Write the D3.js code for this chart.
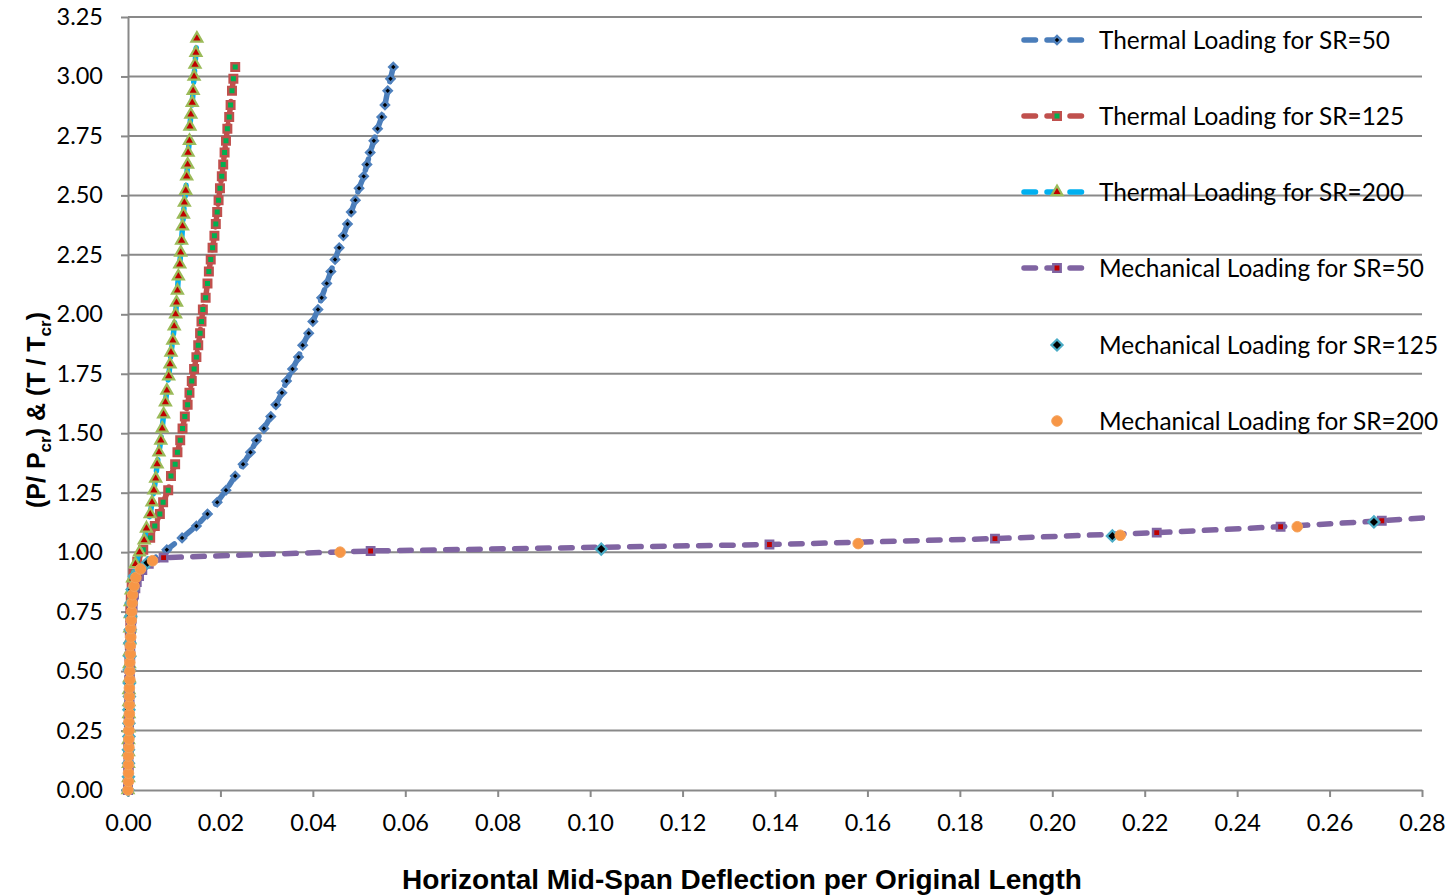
<!DOCTYPE html>
<html>
<head>
<meta charset="utf-8">
<script src="https://cdn.jsdelivr.net/npm/d3@7"></script>
<style>
body { margin: 0; background: #ffffff; }
</style>
</head>
<body>
<div id="content"></div>
<script>
// axis ticks
var xTicks = [0, 0.02, 0.04, 0.06, 0.08, 0.10, 0.12, 0.14, 0.16, 0.18, 0.20, 0.22, 0.24, 0.26, 0.28];
var yTicks = [0, 0.25, 0.50, 0.75, 1.00, 1.25, 1.50, 1.75, 2.00, 2.25, 2.50, 2.75, 3.00, 3.25];

var seriesNames = [
	"Thermal Loading for SR=50",
	"Thermal Loading for SR=125",
	"Thermal Loading for SR=200",
	"Mechanical Loading for SR=50",
	"Mechanical Loading for SR=125",
	"Mechanical Loading for SR=200"
];

// thermal loading (T / Tcr), SR=50 and SR=125 share the same steps
var thermalY = [0.00, 0.05, 0.10, 0.15, 0.20, 0.25, 0.30, 0.35, 0.40, 0.46,
	0.51, 0.56, 0.61, 0.66, 0.71, 0.76, 0.81, 0.86, 0.91, 0.96,
	1.01, 1.06, 1.11, 1.16, 1.21, 1.26, 1.32, 1.37, 1.42, 1.47,
	1.52, 1.57, 1.62, 1.67, 1.72, 1.77, 1.82, 1.87, 1.92, 1.97,
	2.02, 2.07, 2.13, 2.18, 2.23, 2.28, 2.33, 2.38, 2.43, 2.48,
	2.53, 2.58, 2.63, 2.68, 2.73, 2.78, 2.83, 2.88, 2.94, 2.99,
	3.04];
var thermal50X = [0, 0.0001, 0.0001, 0.0001, 0.0002, 0.0002, 0.0002, 0.0002, 0.0003, 0.0003,
	0.0003, 0.0004, 0.0004, 0.0005, 0.0006, 0.0007, 0.0009, 0.0013, 0.0022, 0.0045,
	0.0084, 0.0117, 0.0148, 0.0172, 0.0193, 0.0212, 0.0232, 0.0249, 0.0265, 0.0278,
	0.0294, 0.0309, 0.0320, 0.0333, 0.0343, 0.0356, 0.0369, 0.0378, 0.0391, 0.0400,
	0.0411, 0.0419, 0.0430, 0.0439, 0.0448, 0.0457, 0.0466, 0.0475, 0.0483, 0.0492,
	0.0500, 0.0510, 0.0517, 0.0524, 0.0532, 0.0540, 0.0549, 0.0556, 0.0562, 0.0568,
	0.0574];
var thermal125X = [0, 0.0001, 0.0001, 0.0001, 0.0001, 0.0002, 0.0002, 0.0002, 0.0002, 0.0003,
	0.0003, 0.0003, 0.0004, 0.0004, 0.0005, 0.0005, 0.0006, 0.0008, 0.0012, 0.0020,
	0.0033, 0.0048, 0.0058, 0.0069, 0.0076, 0.0087, 0.0093, 0.0102, 0.0107, 0.0113,
	0.0118, 0.0123, 0.0129, 0.0133, 0.0138, 0.0143, 0.0148, 0.0152, 0.0156, 0.0159,
	0.0162, 0.0168, 0.0172, 0.0175, 0.0179, 0.0183, 0.0187, 0.0190, 0.0193, 0.0196,
	0.0199, 0.0203, 0.0206, 0.0209, 0.0212, 0.0215, 0.0219, 0.0222, 0.0225, 0.0228,
	0.0232];
var thermal200Y = [0.00, 0.05, 0.11, 0.16, 0.21, 0.26, 0.32, 0.37, 0.42, 0.47,
	0.53, 0.58, 0.63, 0.68, 0.74, 0.79, 0.84, 0.89, 0.95, 1.00,
	1.05, 1.10, 1.16, 1.21, 1.26, 1.31, 1.37, 1.42, 1.47, 1.52,
	1.58, 1.63, 1.68, 1.74, 1.79, 1.84, 1.89, 1.95, 2.00, 2.05,
	2.10, 2.16, 2.21, 2.26, 2.31, 2.37, 2.42, 2.47, 2.52, 2.58,
	2.63, 2.68, 2.73, 2.79, 2.84, 2.89, 2.94, 3.00, 3.05, 3.10,
	3.16];
var thermal200X = [0, 0.0001, 0.0001, 0.0001, 0.0001, 0.0002, 0.0002, 0.0002, 0.0002, 0.0003,
	0.0003, 0.0003, 0.0004, 0.0004, 0.0005, 0.0005, 0.0007, 0.0010, 0.0016, 0.0025,
	0.0035, 0.0040, 0.0048, 0.0052, 0.0056, 0.0060, 0.0063, 0.0067, 0.0071, 0.0074,
	0.0077, 0.0081, 0.0084, 0.0088, 0.0091, 0.0093, 0.0097, 0.0100, 0.0103, 0.0105,
	0.0107, 0.0109, 0.0112, 0.0114, 0.0116, 0.0118, 0.0120, 0.0122, 0.0125, 0.0127,
	0.0129, 0.0130, 0.0133, 0.0134, 0.0136, 0.0139, 0.0141, 0.0143, 0.0145, 0.0147,
	0.0149];

// mechanical loading (P / Pcr)
var mech50Y = [0, 0.026, 0.051, 0.077, 0.103, 0.128, 0.154, 0.180, 0.206, 0.231,
	0.257, 0.283, 0.308, 0.334, 0.360, 0.385, 0.411, 0.437, 0.463, 0.488,
	0.514, 0.540, 0.565, 0.591, 0.617, 0.642, 0.668, 0.694, 0.720, 0.745,
	0.771, 0.797, 0.822, 0.848, 0.874, 0.899, 0.925, 0.951,
	0.977, 1.005, 1.032, 1.057, 1.082, 1.107, 1.132, 1.157];
var mech50X = [0, 0, 0.0001, 0.0001, 0.0001, 0.0001, 0.0001, 0.0001, 0.0002, 0.0002,
	0.0002, 0.0002, 0.0002, 0.0002, 0.0003, 0.0003, 0.0003, 0.0003, 0.0003, 0.0004,
	0.0004, 0.0004, 0.0005, 0.0005, 0.0005, 0.0006, 0.0006, 0.0007, 0.0008, 0.0009,
	0.0010, 0.0011, 0.0013, 0.0016, 0.0019, 0.0024, 0.0031, 0.0045,
	0.0077, 0.0525, 0.1388, 0.1876, 0.2226, 0.2494, 0.2713, 0.2905];
var mech125Y = [0, 0.056, 0.112, 0.169, 0.225, 0.281, 0.337, 0.393, 0.449, 0.506,
	0.562, 0.618, 0.674, 0.730, 0.786, 0.843, 0.899, 0.955, 1.013, 1.068, 1.127];
var mech125X = [0, 0.0001, 0.0001, 0.0001, 0.0002, 0.0002, 0.0002, 0.0003, 0.0003, 0.0003,
	0.0004, 0.0004, 0.0005, 0.0006, 0.0007, 0.0009, 0.0014, 0.0042, 0.1024, 0.2130, 0.2696];
var mech200Y = [0, 0.036, 0.071, 0.107, 0.143, 0.179, 0.214, 0.250, 0.286, 0.321,
	0.357, 0.393, 0.429, 0.464, 0.500, 0.536, 0.571, 0.607, 0.643, 0.679,
	0.714, 0.750, 0.786, 0.821, 0.857, 0.893, 0.929, 0.964,
	1.000, 1.036, 1.071, 1.107];
var mech200X = [0, 0.0001, 0.0001, 0.0001, 0.0001, 0.0002, 0.0002, 0.0002, 0.0002, 0.0003,
	0.0003, 0.0003, 0.0003, 0.0004, 0.0004, 0.0004, 0.0005, 0.0005, 0.0006, 0.0006,
	0.0007, 0.0008, 0.0009, 0.0010, 0.0013, 0.0017, 0.0027, 0.0053,
	0.0459, 0.1580, 0.2147, 0.2530];

var gridColor = "#898989";

function main() {
	var width = 1450;
	var height = 896;

	var svg = d3.select("#content")
		.append("svg")
		.attr("width", width)
		.attr("height", height);

	var x = d3.scaleLinear().domain([0, 0.28]).range([128, 1422]);
	var y = d3.scaleLinear().domain([0, 3.25]).range([790, 17]);

	// series styling
	var series = [
		{ name: seriesNames[0], xs: thermal50X, ys: thermalY, line: "#4A7DBA",
			shape: "diamond", size: 32, fill: "#000000", stroke: "#4F81BD", sw: 2.5 },
		{ name: seriesNames[1], xs: thermal125X, ys: thermalY, line: "#C0504D",
			shape: "square", size: 56, fill: "#00B050", stroke: "#C0504D", sw: 2.5 },
		{ name: seriesNames[2], xs: thermal200X, ys: thermal200Y, line: "#00B0F0",
			shape: "triangle", size: 52, fill: "#C00000", stroke: "#9BBB59", sw: 2.2 },
		{ name: seriesNames[3], xs: mech50X, ys: mech50Y, line: "#8064A2",
			shape: "square", size: 54, fill: "#C00000", stroke: "#8064A2", sw: 2.5 },
		{ name: seriesNames[4], xs: mech125X, ys: mech125Y, line: null,
			shape: "diamond", size: 62, fill: "#000000", stroke: "#4BACC6", sw: 2.2 },
		{ name: seriesNames[5], xs: mech200X, ys: mech200Y, line: null,
			shape: "circle", size: 88, fill: "#F79646", stroke: "#F5A35C", sw: 1 }
	];

	// horizontal gridlines
	svg.append("g")
		.selectAll("line")
		.data(yTicks.slice(1))
		.enter()
		.append("line")
		.attr("x1", x(0))
		.attr("x2", x(0.28))
		.attr("y1", function (d) { return y(d); })
		.attr("y2", function (d) { return y(d); })
		.attr("stroke", gridColor)
		.attr("stroke-width", 2);

	var yAxis = svg.append("g")
		.attr("transform", "translate(" + x(0) + ",0)")
		.call(d3.axisLeft(y).tickValues(yTicks).tickSize(7).tickSizeOuter(0).tickPadding(18).tickFormat(d3.format(".2f")));

	var xAxis = svg.append("g")
		.attr("transform", "translate(0," + y(0) + ")")
		.call(d3.axisBottom(x).tickValues(xTicks).tickSize(7).tickSizeOuter(0).tickPadding(17).tickFormat(d3.format(".2f")));

	[xAxis, yAxis].forEach(function (ax) {
		ax.select(".domain").attr("stroke", gridColor).attr("stroke-width", 2);
		ax.selectAll(".tick line").attr("stroke", gridColor).attr("stroke-width", 2);
		ax.selectAll(".tick text")
			.attr("fill", "#000")
			.style("font-family", "Lato, sans-serif")
			.style("font-size", "23.5px");
	});

	// clip the curves to the plot area
	svg.append("clipPath").attr("id", "plotClip")
		.append("rect")
		.attr("x", 0).attr("y", 0)
		.attr("width", x(0.28) + 3).attr("height", y(0) + 10);

	var plot = svg.append("g").attr("clip-path", "url(#plotClip)");

	var line = d3.line()
		.x(function (d) { return x(d[0]); })
		.y(function (d) { return y(d[1]); });

	series.forEach(function (s) {
		var pts = d3.zip(s.xs, s.ys);
		var g = plot.append("g");
		if (s.line) {
			g.append("path")
				.datum(pts)
				.attr("d", line)
				.attr("fill", "none")
				.attr("stroke", s.line)
				.attr("stroke-width", 5.5)
				.attr("stroke-linecap", "round")
				.attr("stroke-linejoin", "round")
				.attr("stroke-dasharray", "11.5,11.5");
		}
		g.selectAll(".marker")
			.data(pts)
			.enter()
			.append("path")
			.attr("class", "marker")
			.attr("d", markerPath(s))
			.attr("transform", function (d) {
				return "translate(" + x(d[0]) + "," + y(d[1]) + ")" + (s.shape == "diamond" ? " rotate(45)" : "");
			})
			.attr("fill", s.fill)
			.attr("stroke", s.stroke)
			.attr("stroke-width", s.sw);
	});

	drawLegend(svg, series);

	// axis titles
	svg.append("text")
		.attr("x", 742)
		.attr("y", 889)
		.attr("text-anchor", "middle")
		.style("font-family", "'Liberation Sans', Arial, sans-serif")
		.style("font-weight", "bold")
		.style("font-size", "28px")
		.text("Horizontal Mid-Span Deflection per Original Length");

	var yTitle = svg.append("text")
		.attr("transform", "translate(45,410) rotate(-90)")
		.attr("text-anchor", "middle")
		.style("font-family", "'Liberation Sans', Arial, sans-serif")
		.style("font-weight", "bold")
		.style("font-size", "25px");
	yTitle.append("tspan").text("(P/ P");
	yTitle.append("tspan").attr("dy", 6).style("font-size", "17px").text("cr");
	yTitle.append("tspan").attr("dy", -6).text(") & (T / T");
	yTitle.append("tspan").attr("dy", 6).style("font-size", "17px").text("cr");
	yTitle.append("tspan").attr("dy", -6).text(")");
}

function markerPath(s) {
	var type = d3.symbolSquare;
	if (s.shape == "triangle") type = d3.symbolTriangle;
	if (s.shape == "circle") type = d3.symbolCircle;
	return d3.symbol().type(type).size(s.size)();
}

function drawLegend(svg, series) {
	var rowY = [40, 116, 192, 268, 345, 421];
	var legend = svg.append("g");
	series.forEach(function (s, i) {
		var row = legend.append("g").attr("transform", "translate(0," + rowY[i] + ")");
		if (s.line) {
			row.append("line")
				.attr("x1", 1024).attr("x2", 1082)
				.attr("y1", 0).attr("y2", 0)
				.attr("stroke", s.line)
				.attr("stroke-width", 5.5)
				.attr("stroke-linecap", "round")
				.attr("stroke-dasharray", "11.5,11.5");
		}
		row.append("path")
			.attr("d", markerPath(s))
			.attr("transform", "translate(1057,0)" + (s.shape == "diamond" ? " rotate(45)" : ""))
			.attr("fill", s.fill)
			.attr("stroke", s.stroke)
			.attr("stroke-width", s.sw);
		row.append("text")
			.attr("x", 1099)
			.attr("y", 0)
			.attr("dy", "0.35em")
			.style("font-family", "Lato, sans-serif")
			.style("font-size", "24.4px")
			.attr("fill", "#000")
			.text(s.name);
	});
}

(() => {
	main();
})()
</script>
</body>
</html>
